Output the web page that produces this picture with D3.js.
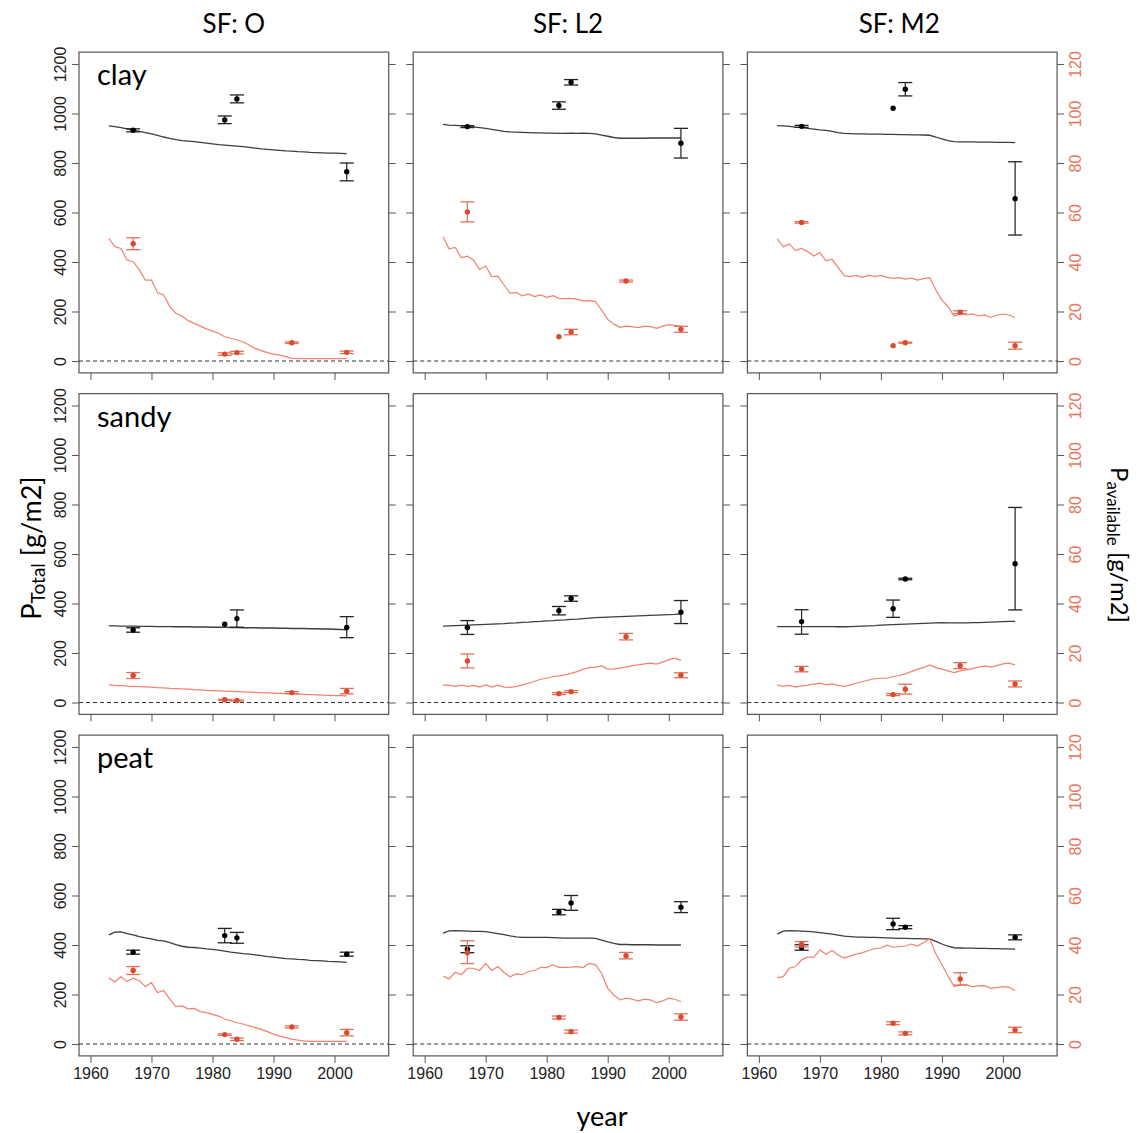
<!DOCTYPE html>
<html><head><meta charset="utf-8">
<script src="https://cdn.jsdelivr.net/npm/d3@7"></script>
<style>body{margin:0;background:#fff}</style>
</head><body><svg id="chart" width="1137" height="1133"></svg>
<script>
// ---------------- DATA ----------------
const soils = ["clay", "sandy", "peat"];
const scenarios = ["SF: O", "SF: L2", "SF: M2"];
const modelYears = [1963,1964,1965,1966,1967,1968,1969,1970,1971,1972,1973,1974,1975,1976,1977,1978,1979,1980,1981,1982,
                    1983,1984,1985,1986,1987,1988,1989,1990,1991,1992,1993,1994,1995,1996,1997,1998,1999,2000,2001,2002];
const obsTotalYears = [1967, 1982, 1984, 2002];
const obsAvailYears = [1967, 1982, 1984, 1993, 2002];
const xTicks = [1960, 1970, 1980, 1990, 2000];
const totalTicks = [0, 200, 400, 600, 800, 1000, 1200];
const availTicks = [0, 20, 40, 60, 80, 100, 120];

// modelled P total [g/m2] (left axis), yearly 1963-2002
const modelTotal_clay_O  = [950,947,943,938,933,928,923,918,912,905,899,894,890,888,886,883,880,877,874,872,870,868,866,863,860,857,855,853,851,849,848,846,845,843,842,841,840,840,839,838];
const modelTotal_clay_L2 = [956,953,952,950,948,946,943,940,936,932,928,926,925,924,923,922,922,921,921,920,920,921,920,921,920,918,913,908,903,900,900,900,900,900,901,901,901,901,901,901];
const modelTotal_clay_M2 = [951,950,948,945,943,940,937,934,932,928,923,920,919,918,918,917,917,917,916,916,915,915,914,914,913,912,905,897,890,886,885,885,885,884,884,884,883,883,883,882];
const modelTotal_sandy_O  = [310,310,309,309,309,308,308,308,307,307,307,306,306,306,305,305,305,304,304,304,303,303,302,302,302,301,301,301,300,300,299,299,299,298,298,297,297,296,295,294];
const modelTotal_sandy_L2 = [309,310,311,312,313,314,315,316,317,318,319,321,322,324,325,327,328,330,331,333,334,336,337,339,341,343,344,345,346,347,348,349,350,351,352,353,354,355,356,358];
const modelTotal_sandy_M2 = [307,307,307,307,307,307,307,307,307,307,306,306,307,308,309,310,311,313,314,315,316,317,318,319,320,321,322,323,322,322,322,322,323,323,324,325,326,327,328,328];
const modelTotal_peat_O  = [441,452,453,446,441,434,429,425,419,417,410,402,395,391,390,387,384,382,379,375,371,368,365,363,360,357,353,351,348,345,344,342,341,338,337,336,334,333,332,330];
const modelTotal_peat_L2 = [448,457,458,457,456,455,455,454,450,446,442,437,433,431,431,431,431,431,430,429,428,428,428,428,428,427,420,413,407,402,402,401,401,401,401,400,400,400,400,400];
const modelTotal_peat_M2 = [444,456,458,457,456,455,453,450,447,444,440,436,434,432,432,431,431,430,429,428,427,427,426,426,425,425,415,404,395,389,388,387,387,386,386,385,385,384,384,383];

// modelled P available [g/m2] (right axis), yearly 1963-2002
const modelAvail_clay_O  = [49.6,46.2,45.5,40.8,40.1,36.8,32.7,32.7,27.6,26.7,22.0,19.3,18.2,16.3,15.2,14.1,13.0,12.1,11.2,9.8,9.2,8.5,7.8,6.5,5.1,4.2,3.4,2.8,2.4,1.8,1.1,1.0,1.0,1.0,1.0,1.0,1.0,1.0,1.0,1.0];
const modelAvail_clay_L2 = [50.2,45.3,45.9,41.8,42.4,40.8,37.0,38.4,34.1,34.3,30.7,27.3,27.7,26.3,27.1,26.0,26.7,25.7,26.4,25.3,25.2,25.3,24.9,24.2,24.4,24.0,20.6,16.8,14.9,13.6,14.1,13.9,13.5,14.1,13.9,13.2,14.1,14.7,14.4,14.1];
const modelAvail_clay_M2 = [49.3,46.2,47.3,44.6,45.5,44.2,42.4,43.8,40.5,41.1,37.7,34.5,34.1,34.6,33.8,34.7,34.1,34.6,33.8,33.4,33.7,33.1,33.5,32.7,33.3,33.7,28.7,24.6,22.0,18.2,19.0,18.6,19.0,18.2,18.6,17.6,18.5,19.0,18.6,17.6];
const modelAvail_sandy_O  = [7.1,6.9,6.8,6.6,6.5,6.4,6.3,6.2,6.0,5.9,5.7,5.6,5.5,5.4,5.2,5.1,4.9,4.8,4.7,4.6,4.5,4.4,4.3,4.2,4.1,4.0,3.9,3.8,3.7,3.6,3.5,3.4,3.3,3.2,3.1,3.0,2.9,2.8,2.8,2.7];
const modelAvail_sandy_L2 = [7.1,6.9,6.5,7.0,6.5,6.9,6.2,7.1,6.2,7.0,6.2,6.1,6.5,7.1,7.8,8.5,9.4,9.8,10.5,10.8,11.2,11.8,12.5,13.5,14.1,14.3,14.8,13.5,13.6,13.9,14.3,14.9,15.2,15.6,15.9,15.5,16.3,17.2,17.9,17.0];
const modelAvail_sandy_M2 = [7.1,6.5,6.9,6.2,6.7,7.0,7.4,7.8,7.1,7.5,6.9,6.5,7.1,7.8,8.5,9.1,9.6,9.8,9.8,10.5,10.9,11.6,12.5,13.5,14.1,15.2,14.1,13.5,12.8,12.1,12.8,13.2,13.7,14.3,14.8,14.3,14.9,15.6,15.9,15.2];
const modelAvail_peat_O  = [26.8,25.1,27.2,25.2,26.6,25.6,23.2,24.8,20.8,21.6,18.1,15.1,15.4,14.2,14.4,13.1,12.7,12.0,11.3,10.1,9.4,8.6,8.1,7.3,6.6,5.9,5.0,4.0,3.2,2.6,2.0,1.6,1.3,1.1,1.1,1.1,1.1,1.1,1.1,1.1];
const modelAvail_peat_L2 = [27.5,26.3,29.0,28.0,30.6,30.6,29.7,32.6,29.7,31.3,28.9,27.2,28.3,28.0,29.3,29.7,31.0,30.9,32.0,31.0,31.0,31.1,31.3,30.9,32.6,32.0,28.6,22.5,19.8,17.8,18.5,18.1,17.4,18.1,17.8,16.7,17.4,18.5,18.1,17.1];
const modelAvail_peat_M2 = [26.8,27.2,30.6,31.3,34.0,35.1,35.1,38.0,36.3,37.8,36.0,34.7,35.6,36.3,36.9,37.8,38.6,38.8,39.9,39.1,39.4,39.6,40.4,39.6,41.0,42.5,36.5,32.0,27.5,23.2,23.9,23.9,23.2,23.5,23.6,22.5,22.8,23.2,22.9,21.6];

// observed P total [value, low, high] at obsTotalYears
const obsTotal_clay_O  = [[932,926,938],[974,959,990],[1059,1043,1075],[765,728,800]];
const obsTotal_clay_L2 = [[947,943,951],[1032,1017,1047],[1126,1115,1137],[880,820,940]];
const obsTotal_clay_M2 = [[948,944,952],[1021,1021,1021],[1098,1071,1125],[656,509,805]];
const obsTotal_sandy_O  = [[293,284,302],[316,316,316],[339,304,374],[303,262,347]];
const obsTotal_sandy_L2 = [[303,275,331],[371,354,388],[420,409,431],[365,319,412]];
const obsTotal_sandy_M2 = [[327,276,375],[379,344,414],[499,496,502],[561,374,788]];
const obsTotal_peat_O  = [[371,363,379],[438,409,467],[429,407,451],[363,355,371]];
const obsTotal_peat_L2 = [[383,369,397],[533,522,544],[570,540,600],[553,531,575]];
const obsTotal_peat_M2 = [[390,379,401],[485,462,508],[472,466,478],[431,421,441]];

// observed P available [value, low, high] at obsAvailYears
const obsAvail_clay_O  = [[47.4,45.0,49.8],[2.8,2.3,3.3],[3.4,2.9,3.9],[7.4,7.1,7.7],[3.5,3.0,4.0]];
const obsAvail_clay_L2 = [[60.2,56.2,64.3],[9.8,9.8,9.8],[11.7,10.6,12.8],[32.3,31.9,32.7],[12.8,11.6,14.0]];
const obsAvail_clay_M2 = [[56.0,55.7,56.3],[6.2,6.2,6.2],[7.4,7.2,7.6],[19.7,19.1,20.3],[6.2,4.8,7.6]];
const obsAvail_sandy_O  = [[10.9,9.7,12.1],[1.1,0.9,1.3],[0.8,0.6,1.0],[4.0,3.6,4.4],[4.6,3.5,5.7]];
const obsAvail_sandy_L2 = [[16.8,14.0,19.6],[3.6,3.2,4.0],[4.4,4.0,4.8],[26.6,25.3,27.9],[11.0,10.0,12.0]];
const obsAvail_sandy_M2 = [[13.5,12.4,14.6],[3.2,2.8,3.6],[5.4,3.4,7.4],[14.9,13.7,16.1],[7.5,6.3,8.7]];
const obsAvail_peat_O  = [[29.7,28.1,31.3],[3.8,3.5,4.1],[1.9,1.4,2.4],[6.9,6.5,7.3],[4.6,3.3,5.9]];
const obsAvail_peat_L2 = [[36.9,32.5,41.7],[10.7,10.1,11.3],[5.0,4.4,5.6],[35.7,34.4,37.0],[10.9,9.6,12.2]];
const obsAvail_peat_M2 = [[40.3,39.2,41.4],[8.4,7.8,9.0],[4.3,3.7,4.9],[26.3,23.8,28.8],[5.7,4.6,6.8]];

// lookup tables built from the arrays
const modelTotal = {clay:[modelTotal_clay_O,modelTotal_clay_L2,modelTotal_clay_M2], sandy:[modelTotal_sandy_O,modelTotal_sandy_L2,modelTotal_sandy_M2], peat:[modelTotal_peat_O,modelTotal_peat_L2,modelTotal_peat_M2]};
const modelAvail = {clay:[modelAvail_clay_O,modelAvail_clay_L2,modelAvail_clay_M2], sandy:[modelAvail_sandy_O,modelAvail_sandy_L2,modelAvail_sandy_M2], peat:[modelAvail_peat_O,modelAvail_peat_L2,modelAvail_peat_M2]};
const obsTotal = {clay:[obsTotal_clay_O,obsTotal_clay_L2,obsTotal_clay_M2], sandy:[obsTotal_sandy_O,obsTotal_sandy_L2,obsTotal_sandy_M2], peat:[obsTotal_peat_O,obsTotal_peat_L2,obsTotal_peat_M2]};
const obsAvail = {clay:[obsAvail_clay_O,obsAvail_clay_L2,obsAvail_clay_M2], sandy:[obsAvail_sandy_O,obsAvail_sandy_L2,obsAvail_sandy_M2], peat:[obsAvail_peat_O,obsAvail_peat_L2,obsAvail_peat_M2]};

// ---------------- DRAWING ----------------
const svg = d3.select("#chart");
svg.append("rect").attr("width", 1137).attr("height", 1133).attr("fill", "#fff");

const L = {left0: 79, dx: 334.2, w: 309.7, top0: 52.1, dy: 341.5, h: 320.8};
const BLACK_LINE = "#3d3d3d", RED_LINE = "#f0826e", RED_PT = "#d94a2e", RED_BAR = "#e66f58", RED_TXT = "#e8745c";
const TICK_FONT = "'Liberation Sans', Arial, sans-serif";
const LABEL_FONT = "Lato, 'Open Sans', sans-serif";
const CAP = 7;

soils.forEach((soil, r) => {
  scenarios.forEach((sc, c) => {
    const left = L.left0 + c * L.dx, top = L.top0 + r * L.dy;
    const right = left + L.w, bottom = top + L.h;
    const x = d3.scaleLinear().domain([1958.12, 2008.88]).range([left, right]);
    const yT = d3.scaleLinear().domain([-48, 1248]).range([bottom, top]);
    const yA = d3.scaleLinear().domain([-4.8, 124.8]).range([bottom, top]);
    const g = svg.append("g");

    // bottom axis
    const gx = g.append("g").attr("transform", `translate(0,${bottom})`)
      .call(d3.axisBottom(x).tickValues(xTicks).tickSize(7).tickPadding(5)
        .tickFormat(r === 2 ? d3.format("d") : () => ""));
    // left axis
    const gl = g.append("g").attr("transform", `translate(${left},0)`)
      .call(d3.axisLeft(yT).tickValues(totalTicks).tickSize(7)
        .tickFormat(c === 0 ? d3.format("d") : () => ""));
    gl.selectAll(".tick text").attr("transform", "rotate(-90)").attr("x", 0).attr("y", -19)
      .attr("dy", "0.35em").attr("text-anchor", "middle");
    // right axis
    const gr = g.append("g").attr("transform", `translate(${right},0)`)
      .call(d3.axisRight(yA).tickValues(availTicks).tickSize(7)
        .tickFormat(c === 2 ? d3.format("d") : () => ""));
    gr.selectAll(".tick text").attr("transform", "rotate(-90)").attr("x", 0).attr("y", 18)
      .attr("dy", "0.35em").attr("text-anchor", "middle").attr("fill", RED_TXT);
    [gx, gl, gr].forEach(a => {
      a.select(".domain").remove();
      a.selectAll(".tick line").attr("stroke", "#555").attr("stroke-width", 1);
      a.selectAll(".tick text").attr("font-family", TICK_FONT).attr("font-size", 16);
    });
    gx.selectAll(".tick text").attr("fill", "#222");
    gl.selectAll(".tick text").attr("fill", "#222");

    // frame
    g.append("rect").attr("x", left).attr("y", top).attr("width", L.w).attr("height", L.h)
      .attr("fill", "none").attr("stroke", "#555").attr("stroke-width", 1.2);

    // zero dashed line
    g.append("line").attr("x1", left).attr("x2", right).attr("y1", yT(0)).attr("y2", yT(0))
      .attr("stroke", "#333").attr("stroke-width", 1).attr("stroke-dasharray", "4,3");

    // model lines
    const lineT = d3.line().x((d, i) => x(modelYears[i])).y(d => yT(d));
    const lineA = d3.line().x((d, i) => x(modelYears[i])).y(d => yA(d));
    g.append("path").datum(modelTotal[soil][c]).attr("d", lineT)
      .attr("fill", "none").attr("stroke", BLACK_LINE).attr("stroke-width", 1.3);
    g.append("path").datum(modelAvail[soil][c]).attr("d", lineA)
      .attr("fill", "none").attr("stroke", RED_LINE).attr("stroke-width", 1.2);

    // observations with error bars
    function obs(data, years, y, barColor, ptColor) {
      data.forEach((d, i) => {
        const px = x(years[i]);
        if (d[2] > d[1]) {
          g.append("line").attr("x1", px).attr("x2", px).attr("y1", y(d[1])).attr("y2", y(d[2]))
            .attr("stroke", barColor).attr("stroke-width", 1.2);
          [d[1], d[2]].forEach(v => g.append("line").attr("x1", px - CAP).attr("x2", px + CAP)
            .attr("y1", y(v)).attr("y2", y(v)).attr("stroke", barColor).attr("stroke-width", 1.3));
        }
        g.append("circle").attr("cx", px).attr("cy", y(d[0])).attr("r", 2.7).attr("fill", ptColor);
      });
    }
    obs(obsTotal[soil][c], obsTotalYears, yT, "#222", "#000");
    obs(obsAvail[soil][c], obsAvailYears, yA, RED_BAR, RED_PT);

    // soil label
    if (c === 0) {
      g.append("text").attr("x", left + 18).attr("y", top + 33).text(soil)
        .attr("font-family", LABEL_FONT).attr("font-size", 29).attr("fill", "#000");
    }
    // scenario title
    if (r === 0) {
      svg.append("text").attr("x", (left + right) / 2 - (c === 2 ? 3 : 0)).attr("y", 33).attr("text-anchor", "middle")
        .text(sc).attr("font-family", LABEL_FONT).attr("font-size", 26).attr("fill", "#000");
    }
  });
});

// axis titles
const lt = svg.append("text").attr("transform", "translate(41,548) rotate(-90)")
  .attr("text-anchor", "middle").attr("font-family", LABEL_FONT).attr("font-size", 27).attr("fill", "#000");
lt.append("tspan").text("P");
lt.append("tspan").text("Total").attr("font-size", 19).attr("dy", 4);
lt.append("tspan").text(" [g/m2]").attr("dy", -4);

const rt = svg.append("text").attr("transform", "translate(1111,545) rotate(90)")
  .attr("text-anchor", "middle").attr("font-family", LABEL_FONT).attr("font-size", 24).attr("fill", "#000");
rt.append("tspan").text("P");
rt.append("tspan").text("available").attr("font-size", 17).attr("dy", 4);
rt.append("tspan").text(" [g/m2]").attr("dy", -4);

svg.append("text").attr("x", 602).attr("y", 1126).attr("text-anchor", "middle")
  .attr("font-family", LABEL_FONT).attr("font-size", 27).attr("fill", "#000").text("year");
</script>
</body></html>
